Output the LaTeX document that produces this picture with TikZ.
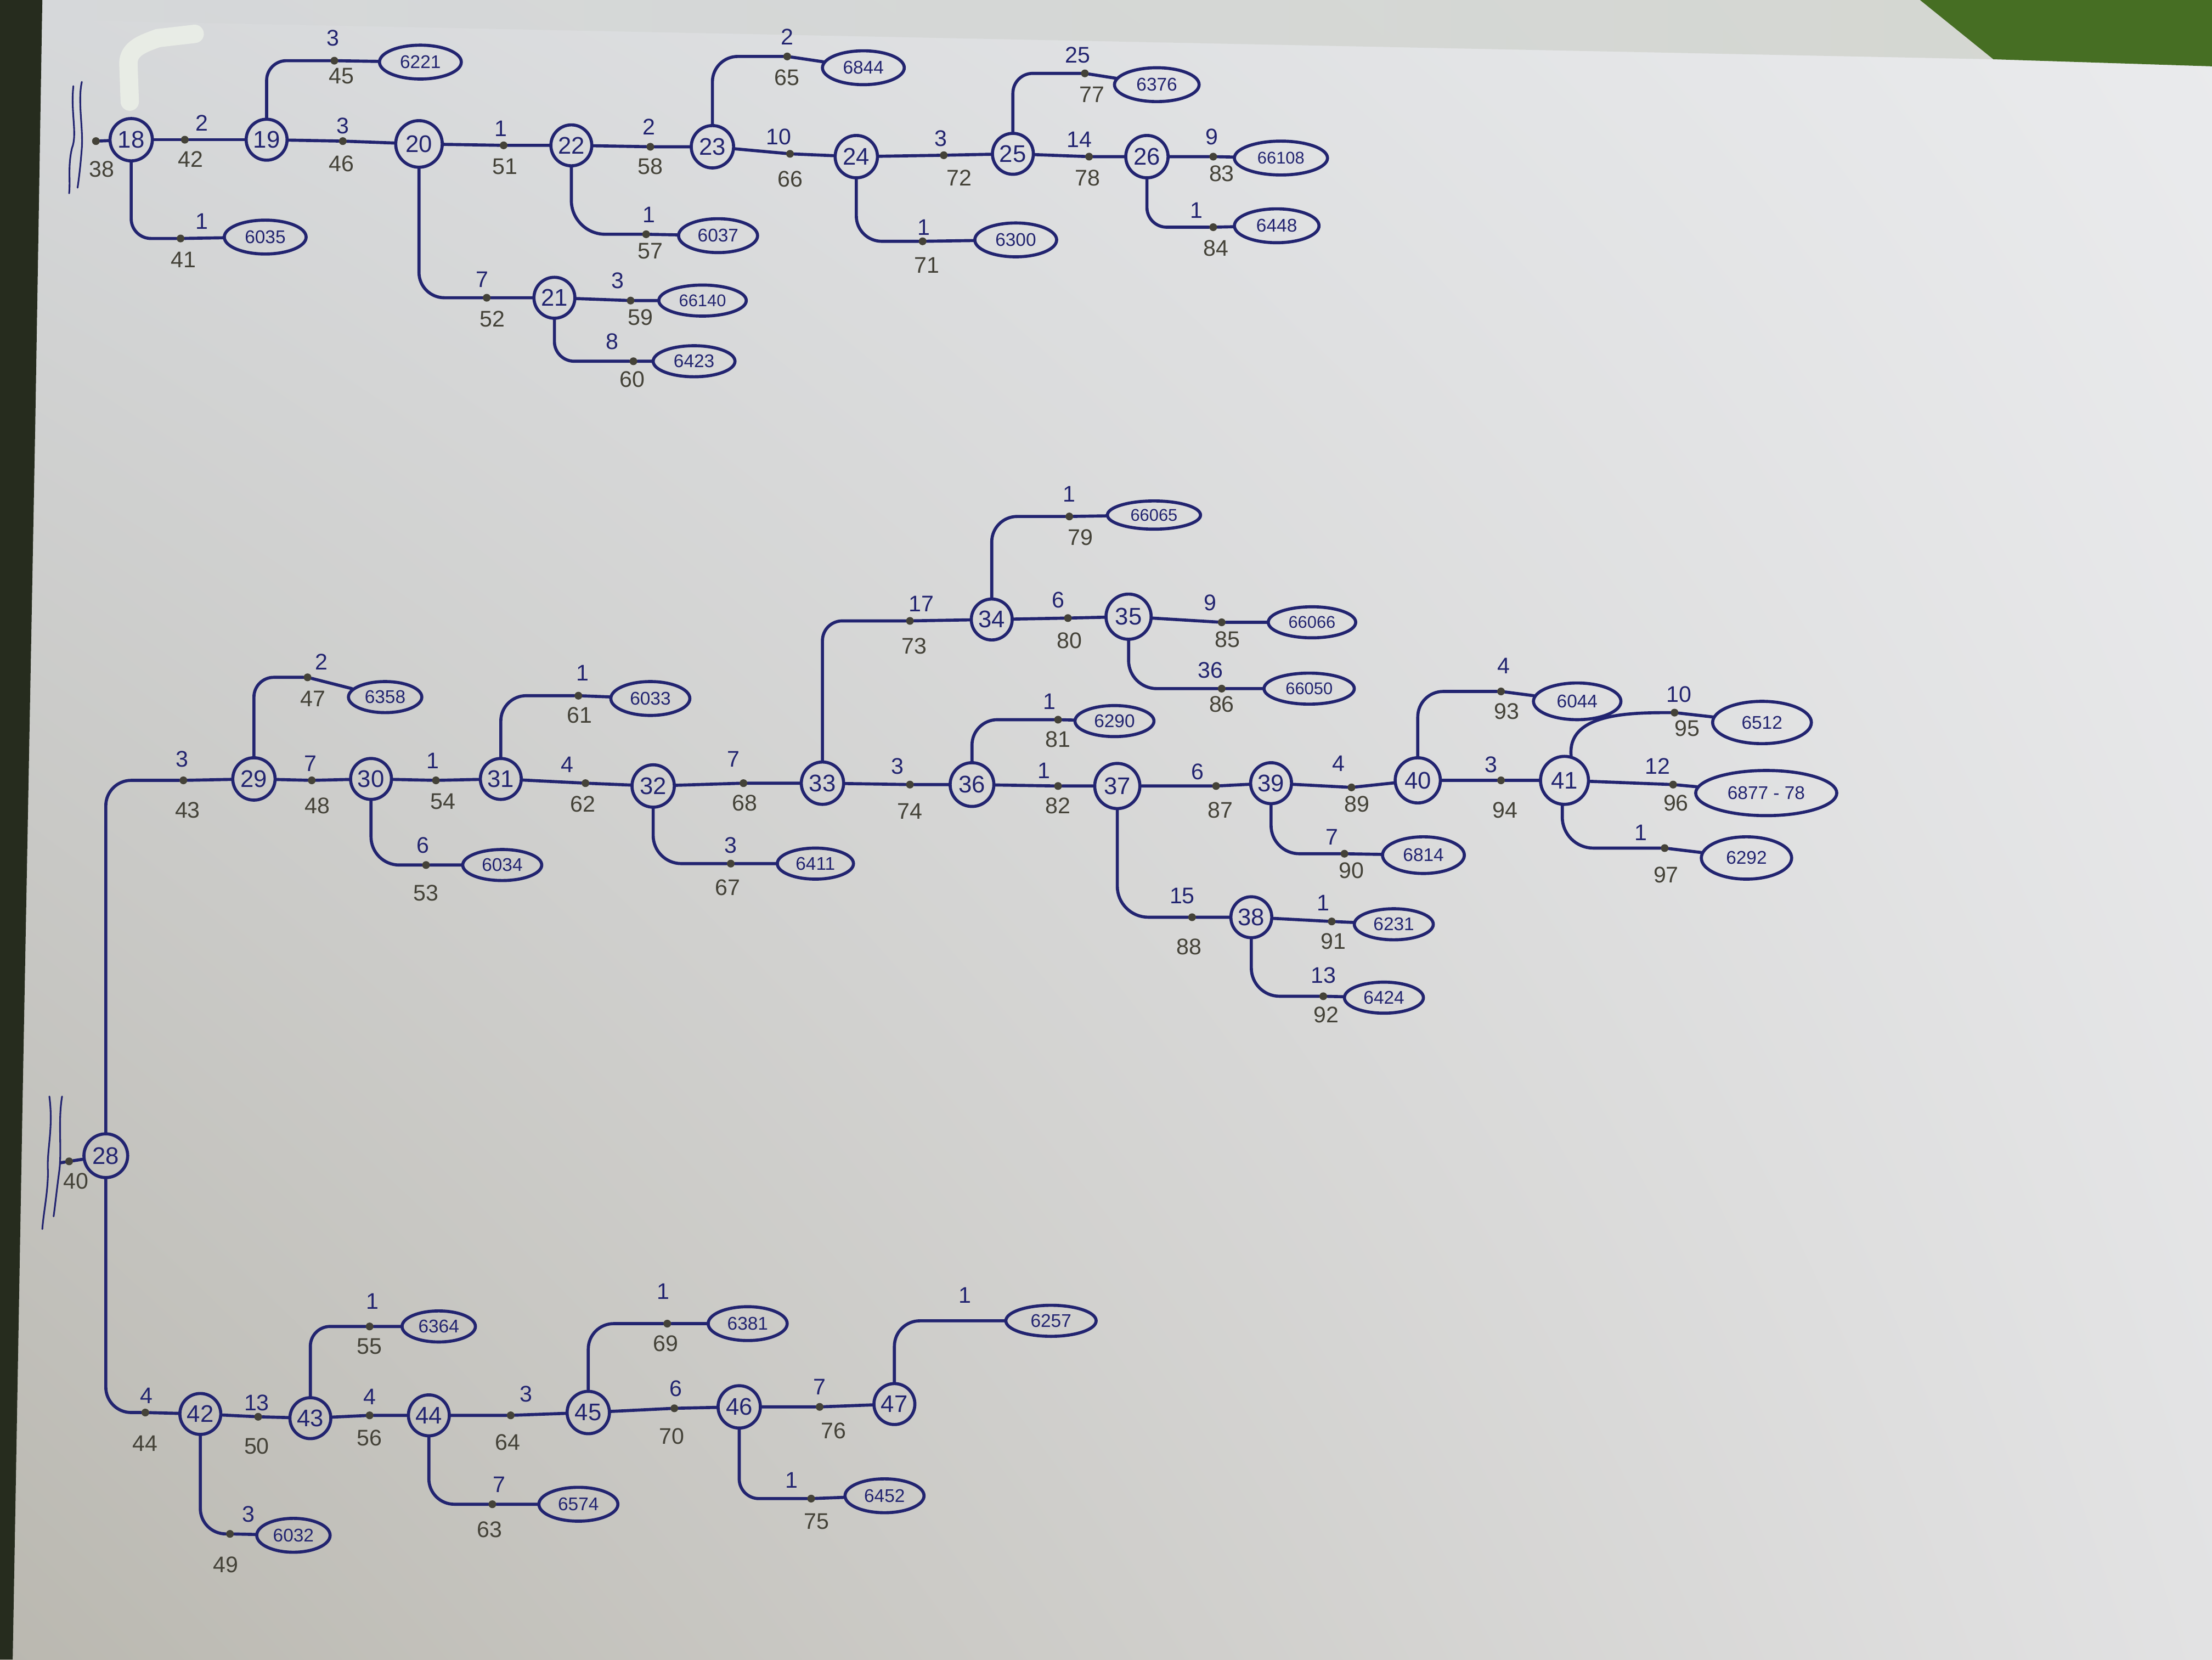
\documentclass[tikz,border=0pt]{standalone}
\usepackage{fontspec}
\setmainfont{Liberation Sans}
\usetikzlibrary{shapes.geometric,shadings}
\definecolor{ink}{RGB}{34,36,112}
\definecolor{pencil}{RGB}{68,66,56}
\definecolor{paperUL}{RGB}{214,216,218}
\definecolor{paperUR}{RGB}{234,235,237}
\definecolor{paperLL}{RGB}{186,184,176}
\definecolor{paperLR}{RGB}{226,226,227}
\definecolor{darkedge}{RGB}{38,44,30}
\definecolor{grass}{RGB}{70,110,35}
\definecolor{topband}{RGB}{205,208,200}
\definecolor{whiteout}{RGB}{236,240,232}
\pgfdeclarelayer{paper}
\pgfdeclarelayer{bg}
\pgfsetlayers{paper,bg,main}
\newcommand\jt[6]{%
  \node[jdot] (#1) at (#2) {};
  \node[qty] at (#4) {#3};
  \node[num] at (#6) {#5};}
\newcommand\jb[4]{%
  \node[jdot] (#1) at (#2) {};
  \node[num] at (#4) {#3};}
\begin{document}
\begin{tikzpicture}[x=1pt,y=-1pt,
  circ/.style={circle, draw=ink, line width=2.2pt, minimum size=29pt, inner sep=0pt, text=ink, font=\fontsize{17}{17}\selectfont},
  oval/.style={ellipse, draw=ink, line width=2.2pt, minimum width=58pt, minimum height=24pt, inner sep=0pt, text=ink, font=\fontsize{13}{13}\selectfont},
  jdot/.style={circle, fill=pencil, inner sep=0pt, minimum size=5.5pt},
  qty/.style={text=ink, font=\fontsize{16}{16}\selectfont, inner sep=0pt},
  num/.style={text=pencil, font=\fontsize{16}{16}\selectfont, inner sep=0pt},
  link/.style={draw=ink, line width=2.2pt, rounded corners=14pt, line cap=round},
  bracket/.style={draw=ink, line width=1.2pt, line cap=round}]
\useasboundingbox (0,0) rectangle (1568,1176);
\begin{pgfonlayer}{paper}
  \shade[upper left=paperUL, upper right=paperUR, lower left=paperLL, lower right=paperLR] (0,0) rectangle (1568,1176);
  \shade[left color=paperUL, right color=topband, opacity=0.7] (30,0) -- (1361,0) -- (1413,42) -- (30,14) -- cycle;
  \fill[grass] (1361,0) -- (1568,0) -- (1568,47) -- (1413,42) -- cycle;
  \fill[darkedge] (0,0) -- (30,0) -- (25,300) -- (16,780) -- (9,1176) -- (0,1176) -- cycle;
  \draw[whiteout, line width=13pt, line cap=round, opacity=0.85] (92,72) -- (91,45) to[out=90,in=200] (112,27) -- (138,24);
\end{pgfonlayer}

% ---------------- top section ----------------
\node[circ, minimum size=30pt] (n18) at (93,99) {18};
\node[circ] (n19) at (189,99) {19};
\node[circ, minimum size=33pt] (n20) at (297,102) {20};
\node[circ] (n21) at (393,211) {21};
\node[circ] (n22) at (405,103) {22};
\node[circ, minimum size=30pt] (n23) at (505,104) {23};
\node[circ, minimum size=30pt] (n24) at (607,111) {24};
\node[circ] (n25) at (718,109) {25};
\node[circ, minimum size=30pt] (n26) at (813,111) {26};

\node[oval] (e6035) at (188,168) {6035};
\node[oval] (e6221) at (298,44) {6221};
\node[oval, minimum width=62pt, minimum height=22pt, font=\fontsize{12}{12}\selectfont] (e66140) at (498,213) {66140};
\node[oval, minimum height=22pt] (e6423) at (492,256) {6423};
\node[oval, minimum width=56pt] (e6037) at (509,167) {6037};
\node[oval] (e6844) at (612,48) {6844};
\node[oval] (e6300) at (720,170) {6300};
\node[oval, minimum width=60pt] (e6376) at (820,60) {6376};
\node[oval, minimum width=66pt, font=\fontsize{12}{12}\selectfont] (e66108) at (908,112) {66108};
\node[oval, minimum width=60pt] (e6448) at (905,160) {6448};

\jb{p38}{68,100}{38}{72,120}
\jt{p41}{128,169}{1}{143,157}{41}{130,184}
\jt{p42}{131,99}{2}{143,87}{42}{135,113}
\jt{p45}{237,43}{3}{236,27}{45}{242,54}
\jt{p46}{243,100}{3}{243,89}{46}{242,116}
\jt{p52}{345,211}{7}{342,198}{52}{349,226}
\jt{p59}{447,213}{3}{438,199}{59}{454,225}
\jt{p60}{449,256}{8}{434,242}{60}{448,269}
\jt{p51}{357,103}{1}{355,91}{51}{358,118}
\jt{p57}{458,166}{1}{460,152}{57}{461,178}
\jt{p58}{461,104}{2}{460,90}{58}{461,118}
\jt{p65}{558,40}{2}{558,26}{65}{558,55}
\jt{p66}{560,109}{10}{552,97}{66}{560,127}
\jt{p71}{654,171}{1}{655,161}{71}{657,188}
\jt{p72}{669,110}{3}{667,98}{72}{680,126}
\jt{p77}{769,52}{25}{764,39}{77}{774,67}
\jt{p78}{772,111}{14}{765,99}{78}{771,126}
\jt{p83}{860,111}{9}{859,97}{83}{866,123}
\jt{p84}{860,161}{1}{848,149}{84}{862,176}

\draw[bracket] (52,61) .. controls (50,80) and (55,95) .. (51,105) .. controls (48,118) and (50,128) .. (49,137);
\draw[bracket] (58,58) .. controls (55,72) and (59,90) .. (58,105) .. controls (57,118) and (56,126) .. (55,133);

\begin{pgfonlayer}{bg}
\draw[link] (p38) -- (n18);
\draw[link] (n18.south) |- (p41) -- (e6035);
\draw[link] (n18) -- (p42) -- (n19);
\draw[link] (n19.north) |- (p45) -- (e6221);
\draw[link] (n19) -- (p46) -- (n20);
\draw[link, rounded corners=18pt] (n20.south) |- (p52) -- (n21);
\draw[link] (n21) -- (p59) -- (e66140);
\draw[link] (n21.south) |- (p60) -- (e6423);
\draw[link] (n20) -- (p51) -- (n22);
\draw[link, rounded corners=24pt] (n22.south) |- (p57) -- (e6037);
\draw[link] (n22) -- (p58) -- (n23);
\draw[link, rounded corners=18pt] (n23.north) |- (p65) -- (e6844);
\draw[link] (n23) -- (p66) -- (n24);
\draw[link, rounded corners=18pt] (n24.south) |- (p71) -- (e6300);
\draw[link] (n24) -- (p72) -- (n25);
\draw[link] (n25.north) |- (p77) -- (e6376);
\draw[link] (n25) -- (p78) -- (n26);
\draw[link] (n26) -- (p83) -- (e66108);
\draw[link] (n26.south) |- (p84) -- (e6448);
\end{pgfonlayer}

% ---------------- middle section ----------------
\node[circ, minimum size=31pt] (n28) at (75,819) {28};
\node[circ, minimum size=30pt] (n29) at (180,552) {29};
\node[circ] (n30) at (263,552) {30};
\node[circ] (n31) at (355,552) {31};
\node[circ, minimum size=30pt] (n32) at (463,557) {32};
\node[circ, minimum size=30pt] (n33) at (583,555) {33};
\node[circ] (n34) at (703,439) {34};
\node[circ, minimum size=32pt] (n35) at (800,437) {35};
\node[circ, minimum size=31pt] (n36) at (689,556) {36};
\node[circ, minimum size=32pt] (n37) at (792,557) {37};
\node[circ] (n38) at (887,650) {38};
\node[circ] (n39) at (901,555) {39};
\node[circ, minimum size=32pt] (n40) at (1005,553) {40};
\node[circ, minimum size=34pt] (n41) at (1109,553) {41};

\node[oval, minimum width=52pt, minimum height=22pt] (e6358) at (273,494) {6358};
\node[oval, minimum width=56pt] (e6033) at (461,495) {6033};
\node[oval, minimum width=56pt, minimum height=22pt] (e6034) at (356,613) {6034};
\node[oval, minimum width=54pt, minimum height=22pt] (e6411) at (578,612) {6411};
\node[oval, minimum width=66pt, minimum height=20pt, font=\fontsize{12}{12}\selectfont] (e66065) at (818,365) {66065};
\node[oval, minimum width=62pt, minimum height=22pt, font=\fontsize{12}{12}\selectfont] (e66066) at (930,441) {66066};
\node[oval, minimum width=64pt, minimum height=22pt, font=\fontsize{12}{12}\selectfont] (e66050) at (928,488) {66050};
\node[oval, minimum width=56pt, minimum height=22pt] (e6290) at (790,511) {6290};
\node[oval, minimum width=56pt, minimum height=22pt] (e6231) at (988,655) {6231};
\node[oval, minimum width=56pt, minimum height=22pt] (e6424) at (981,707) {6424};
\node[oval, minimum height=26pt] (e6814) at (1009,606) {6814};
\node[oval, minimum width=62pt, minimum height=26pt] (e6044) at (1118,497) {6044};
\node[oval, minimum width=70pt, minimum height=30pt] (e6512) at (1249,512) {6512};
\node[oval, minimum width=100pt, minimum height=32pt] (e6877) at (1252,562) {6877 - 78};
\node[oval, minimum width=64pt, minimum height=30pt] (e6292) at (1238,608) {6292};

\jb{p40}{49,823}{40}{54,837}
\jt{p43}{130,553}{3}{129,538}{43}{133,574}
\jt{p47}{218,480}{2}{228,469}{47}{222,495}
\jt{p48}{221,553}{7}{220,541}{48}{225,571}
\jt{p53}{302,613}{6}{300,599}{53}{302,633}
\jt{p54}{309,553}{1}{307,539}{54}{314,568}
\jt{p61}{410,493}{1}{413,477}{61}{411,507}
\jt{p62}{415,555}{4}{402,542}{62}{413,570}
\jt{p67}{518,612}{3}{518,599}{67}{516,629}
\jt{p68}{527,555}{7}{520,538}{68}{528,569}
\jt{p73}{645,440}{17}{653,428}{73}{648,458}
\jt{p79}{758,366}{1}{758,350}{79}{766,381}
\jt{p80}{757,438}{6}{750,425}{80}{758,454}
\jt{p85}{866,441}{9}{858,427}{85}{870,453}
\jt{p86}{866,488}{36}{858,475}{86}{866,499}
\jt{p74}{645,556}{3}{636,543}{74}{645,575}
\jt{p81}{750,510}{1}{744,497}{81}{750,524}
\jt{p82}{750,557}{1}{740,546}{82}{750,571}
\jt{p88}{845,650}{15}{838,635}{88}{843,671}
\jt{p91}{944,653}{1}{938,640}{91}{945,667}
\jt{p92}{938,706}{13}{938,691}{92}{940,719}
\jt{p87}{862,557}{6}{849,547}{87}{865,574}
\jt{p90}{953,605}{7}{944,593}{90}{958,617}
\jt{p89}{958,558}{4}{949,541}{89}{962,570}
\jt{p93}{1064,490}{4}{1066,472}{93}{1068,504}
\jt{p94}{1064,553}{3}{1057,542}{94}{1067,574}
\jt{p95}{1187,505}{10}{1190,492}{95}{1196,516}
\jt{p96}{1186,556}{12}{1175,543}{96}{1188,569}
\jt{p97}{1180,601}{1}{1163,590}{97}{1181,620}

\draw[bracket] (35,777) .. controls (38,800) and (33,815) .. (34,830) .. controls (34,845) and (31,858) .. (30,871);
\draw[bracket] (44,777) .. controls (41,795) and (44,815) .. (42,830) .. controls (40,845) and (39,855) .. (38,862);

\begin{pgfonlayer}{bg}
\draw[link] (43,824) -- (p40) -- (n28);
\draw[link, rounded corners=18pt] (n28.north) |- (p43) -- (n29);
\draw[link] (n29.north) |- (p47) -- (e6358);
\draw[link] (n29) -- (p48) -- (n30);
\draw[link, rounded corners=20pt] (n30.south) |- (p53) -- (e6034);
\draw[link] (n30) -- (p54) -- (n31);
\draw[link, rounded corners=18pt] (n31.north) |- (p61) -- (e6033);
\draw[link] (n31) -- (p62) -- (n32);
\draw[link, rounded corners=20pt] (n32.south) |- (p67) -- (e6411);
\draw[link] (n32) -- (p68) -- (n33);
\draw[link] (n33.north) |- (p73) -- (n34);
\draw[link, rounded corners=18pt] (n34.north) |- (p79) -- (e66065);
\draw[link] (n34) -- (p80) -- (n35);
\draw[link] (n35) -- (p85) -- (e66066);
\draw[link, rounded corners=20pt] (n35.south) |- (p86) -- (e66050);
\draw[link] (n33) -- (p74) -- (n36);
\draw[link, rounded corners=18pt] (n36.north) |- (p81) -- (e6290);
\draw[link] (n36) -- (p82) -- (n37);
\draw[link, rounded corners=22pt] (n37.south) |- (p88) -- (n38);
\draw[link] (n38) -- (p91) -- (e6231);
\draw[link, rounded corners=20pt] (n38.south) |- (p92) -- (e6424);
\draw[link] (n37) -- (p87) -- (n39);
\draw[link, rounded corners=20pt] (n39.south) |- (p90) -- (e6814);
\draw[link] (n39) -- (p89) -- (n40);
\draw[link, rounded corners=18pt] (n40.north) |- (p93) -- (e6044);
\draw[link] (n40) -- (p94) -- (n41);
\draw[link] (n41.75) to[out=95,in=180] (p95) -- (e6512);
\draw[link] (n41) -- (p96) -- (e6877);
\draw[link, rounded corners=22pt] (n41.265) |- (p97) -- (e6292);
\end{pgfonlayer}

% ---------------- bottom section ----------------
\node[circ] (n42) at (142,1002) {42};
\node[circ] (n43) at (220,1005) {43};
\node[circ] (n44) at (304,1003) {44};
\node[circ, minimum size=30pt] (n45) at (417,1001) {45};
\node[circ, minimum size=30pt] (n46) at (524,997) {46};
\node[circ] (n47) at (634,995) {47};

\node[oval, minimum width=52pt] (e6032) at (208,1088) {6032};
\node[oval, minimum width=52pt, minimum height=22pt] (e6364) at (311,940) {6364};
\node[oval, minimum width=56pt] (e6574) at (410,1066) {6574};
\node[oval, minimum width=56pt] (e6381) at (530,938) {6381};
\node[oval, minimum width=56pt] (e6452) at (627,1060) {6452};
\node[oval, minimum width=64pt, minimum height=22pt] (e6257) at (745,936) {6257};

\jt{p44}{103,1001}{4}{104,989}{44}{103,1023}
\jt{p49}{163,1087}{3}{176,1073}{49}{160,1109}
\jt{p50}{183,1004}{13}{182,994}{50}{182,1025}
\jt{p55}{262,940}{1}{264,922}{55}{262,954}
\jt{p56}{262,1003}{4}{262,990}{56}{262,1019}
\jt{p63}{349,1066}{7}{354,1052}{63}{347,1084}
\jt{p64}{362,1003}{3}{373,988}{64}{360,1022}
\jt{p69}{473,938}{1}{470,915}{69}{472,952}
\jt{p70}{478,998}{6}{479,984}{70}{476,1018}
\jt{p75}{575,1062}{1}{561,1049}{75}{579,1078}
\jt{p76}{581,997}{7}{581,983}{76}{591,1014}
\coordinate (c6257) at (690,936);
\node[qty] at (684,918) {1};

\begin{pgfonlayer}{bg}
\draw[link, rounded corners=18pt] (n28.south) |- (p44) -- (n42);
\draw[link, rounded corners=18pt] (n42.south) |- (p49) -- (e6032);
\draw[link] (n42) -- (p50) -- (n43);
\draw[link] (n43.north) |- (p55) -- (e6364);
\draw[link] (n43) -- (p56) -- (n44);
\draw[link, rounded corners=18pt] (n44.south) |- (p63) -- (e6574);
\draw[link] (n44) -- (p64) -- (n45);
\draw[link, rounded corners=18pt] (n45.north) |- (p69) -- (e6381);
\draw[link] (n45) -- (p70) -- (n46);
\draw[link] (n46.south) |- (p75) -- (e6452);
\draw[link] (n46) -- (p76) -- (n47);
\draw[link, rounded corners=18pt] (n47.north) |- (c6257) -- (e6257);
\end{pgfonlayer}
\end{tikzpicture}
\end{document}
